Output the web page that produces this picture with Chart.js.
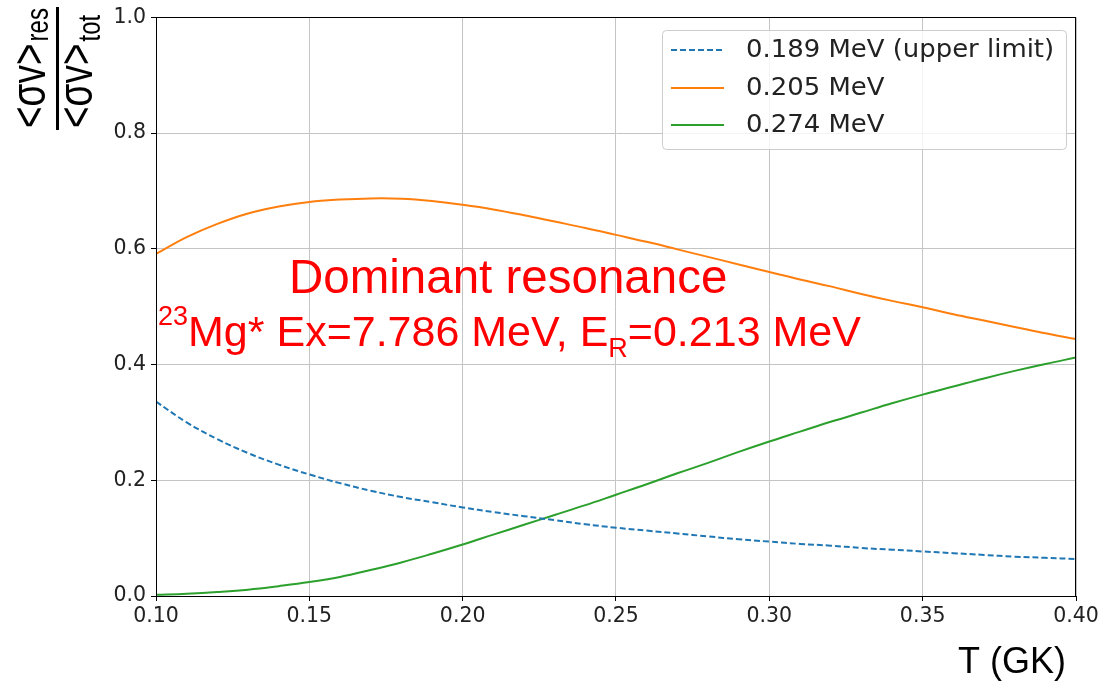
<!DOCTYPE html>
<html>
<head>
<meta charset="utf-8">
<script src="https://cdn.jsdelivr.net/npm/chart.js@4.4.1/dist/chart.umd.min.js"></script>
<style>
  body { margin: 0; background: #fff; }
  canvas { display: block; }
</style>
</head>
<body>
<canvas id="ratio-chart" width="1107" height="684"></canvas>
<script>
// temperature grid (GK)
const temps = [0.10, 0.11, 0.12, 0.13, 0.14, 0.15, 0.16, 0.17, 0.18, 0.19, 0.20,
  0.21, 0.22, 0.23, 0.24, 0.25, 0.26, 0.27, 0.28, 0.29, 0.30,
  0.31, 0.32, 0.33, 0.34, 0.35, 0.36, 0.37, 0.38, 0.39, 0.40]

const labels = ['0.189 MeV (upper limit)', '0.205 MeV', '0.274 MeV']

// <sv>res / <sv>tot for each resonance
const res189 = [0.336, 0.300, 0.271, 0.247, 0.227, 0.210, 0.195, 0.182, 0.171, 0.162, 0.153,
  0.145, 0.138, 0.131, 0.124, 0.118, 0.113, 0.108, 0.103, 0.098, 0.094,
  0.090, 0.087, 0.083, 0.080, 0.077, 0.074, 0.071, 0.068, 0.066, 0.064]
const res205 = [0.591, 0.620, 0.643, 0.661, 0.673, 0.681, 0.685, 0.687, 0.6865, 0.6825, 0.676,
  0.668, 0.658, 0.647, 0.636, 0.624, 0.612, 0.599, 0.586, 0.573, 0.560,
  0.547, 0.535, 0.522, 0.510, 0.499, 0.487, 0.476, 0.465, 0.454, 0.444]
const res274 = [0.002, 0.004, 0.007, 0.011, 0.017, 0.024, 0.033, 0.045, 0.058, 0.073, 0.089,
  0.106, 0.123, 0.140, 0.157, 0.175, 0.193, 0.212, 0.230, 0.249, 0.267,
  0.284, 0.301, 0.317, 0.333, 0.348, 0.362, 0.376, 0.389, 0.401, 0.412]

const plotColors = ['#1f77b4', '#ff7f0e', '#2ca02c']
const dashes = [[6, 3], [], []]

function toPoints (values) {
  return temps.map(function (t, i) { return { x: t, y: values[i] } })
}

const datasets = [res189, res205, res274].map(function (values, i) {
  return {
    label: labels[i],
    data: toPoints(values),
    borderColor: plotColors[i],
    borderWidth: 2,
    borderDash: dashes[i],
    pointRadius: 0,
    fill: false,
    tension: 0.4,
  }
})

// frame, legend, annotations
const extras = {
  id: 'extras',
  afterDraw: function (chart) {
    const ctx = chart.ctx
    const a = chart.chartArea
    ctx.save()

    // black frame
    ctx.strokeStyle = '#000'
    ctx.lineWidth = 1
    ctx.strokeRect(Math.round(a.left) + 0.5, Math.round(a.top) + 0.5,
      Math.round(a.right - a.left) - 1, Math.round(a.bottom - a.top))

    // legend box
    const bx = 662, by = 30, bw = 404, bh = 119
    ctx.beginPath()
    ctx.roundRect(bx + 0.5, by + 0.5, bw, bh, 4)
    ctx.fillStyle = 'rgba(255,255,255,0.8)'
    ctx.fill()
    ctx.strokeStyle = '#cccccc'
    ctx.stroke()
    const rows = [50, 88, 125]
    chart.data.datasets.forEach(function (ds, i) {
      ctx.beginPath()
      ctx.setLineDash(ds.borderDash)
      ctx.strokeStyle = ds.borderColor
      ctx.lineWidth = 2
      ctx.moveTo(671, rows[i])
      ctx.lineTo(724, rows[i])
      ctx.stroke()
      ctx.setLineDash([])
      ctx.save()
      ctx.translate(746, rows[i])
      ctx.scale(1.08, 1)
      ctx.font = '24px "DejaVu Sans"'
      ctx.fillStyle = '#222'
      ctx.textBaseline = 'middle'
      ctx.fillText(ds.label, 0, 1)
      ctx.restore()
    })

    // red annotation
    ctx.fillStyle = '#ff0000'
    ctx.textBaseline = 'alphabetic'
    ctx.font = '47.5px "Liberation Sans"'
    ctx.fillText('Dominant resonance', 289, 293)
    let x = 158
    ctx.font = '27px "Liberation Sans"'
    ctx.fillText('23', x, 325)
    x += ctx.measureText('23').width
    ctx.font = '43px "Liberation Sans"'
    ctx.fillText('Mg* Ex=7.786 MeV, E', x, 346)
    x += ctx.measureText('Mg* Ex=7.786 MeV, E').width
    ctx.font = '27px "Liberation Sans"'
    ctx.fillText('R', x, 357)
    x += ctx.measureText('R').width
    ctx.font = '43px "Liberation Sans"'
    ctx.fillText('=0.213 MeV', x, 346)

    // x axis title
    ctx.fillStyle = '#000'
    ctx.font = '36px "Liberation Sans"'
    ctx.fillText('T (GK)', 958, 673)

    // y axis title as a fraction
    function rotated (main, sub, bx, startY, subShift) {
      ctx.save()
      ctx.translate(bx, startY)
      ctx.rotate(-Math.PI / 2)
      ctx.scale(1, 1.3)
      ctx.font = '37px "Liberation Sans"'
      ctx.fillText(main, 0, 0)
      const w = ctx.measureText(main).width
      ctx.font = '24px "Liberation Sans"'
      ctx.fillText(sub, w + 2, subShift)
      ctx.restore()
    }
    rotated('<σv>', 'res', 45, 128, 2)
    rotated('<σv>', 'tot', 92, 128, 6)
    ctx.fillRect(56, 7, 3, 123)

    ctx.restore()
  },
}

const config = {
  type: 'line',
  data: { datasets: datasets },
  options: {
    responsive: false,
    animation: false,
    layout: { padding: { left: 0, top: 16, right: 31, bottom: 0 } },
    plugins: {
      legend: { display: false },
      tooltip: { enabled: false },
    },
    scales: {
      x: {
        type: 'linear',
        min: 0.10,
        max: 0.40,
        ticks: {
          stepSize: 0.05,
          padding: 3,
          color: '#222',
          font: { family: 'DejaVu Sans', size: 20.5 },
          callback: function (v) { return v.toFixed(2) },
        },
        grid: { color: '#c4c4c4', tickColor: '#000', tickLength: 5 },
        border: { color: '#000' },
        afterFit: function (scale) { scale.height = 88 },
      },
      y: {
        min: 0,
        max: 1,
        ticks: {
          stepSize: 0.2,
          padding: 5,
          color: '#222',
          font: { family: 'DejaVu Sans', size: 20.5 },
          callback: function (v) { return v.toFixed(1) },
        },
        grid: { color: '#c4c4c4', tickColor: '#000', tickLength: 5 },
        border: { color: '#000' },
        afterFit: function (scale) { scale.width = 156 },
      },
    },
  },
  plugins: [extras],
}

const ctx = document.getElementById('ratio-chart').getContext('2d')
const myChart = new Chart(ctx, config)
</script>
</body>
</html>
